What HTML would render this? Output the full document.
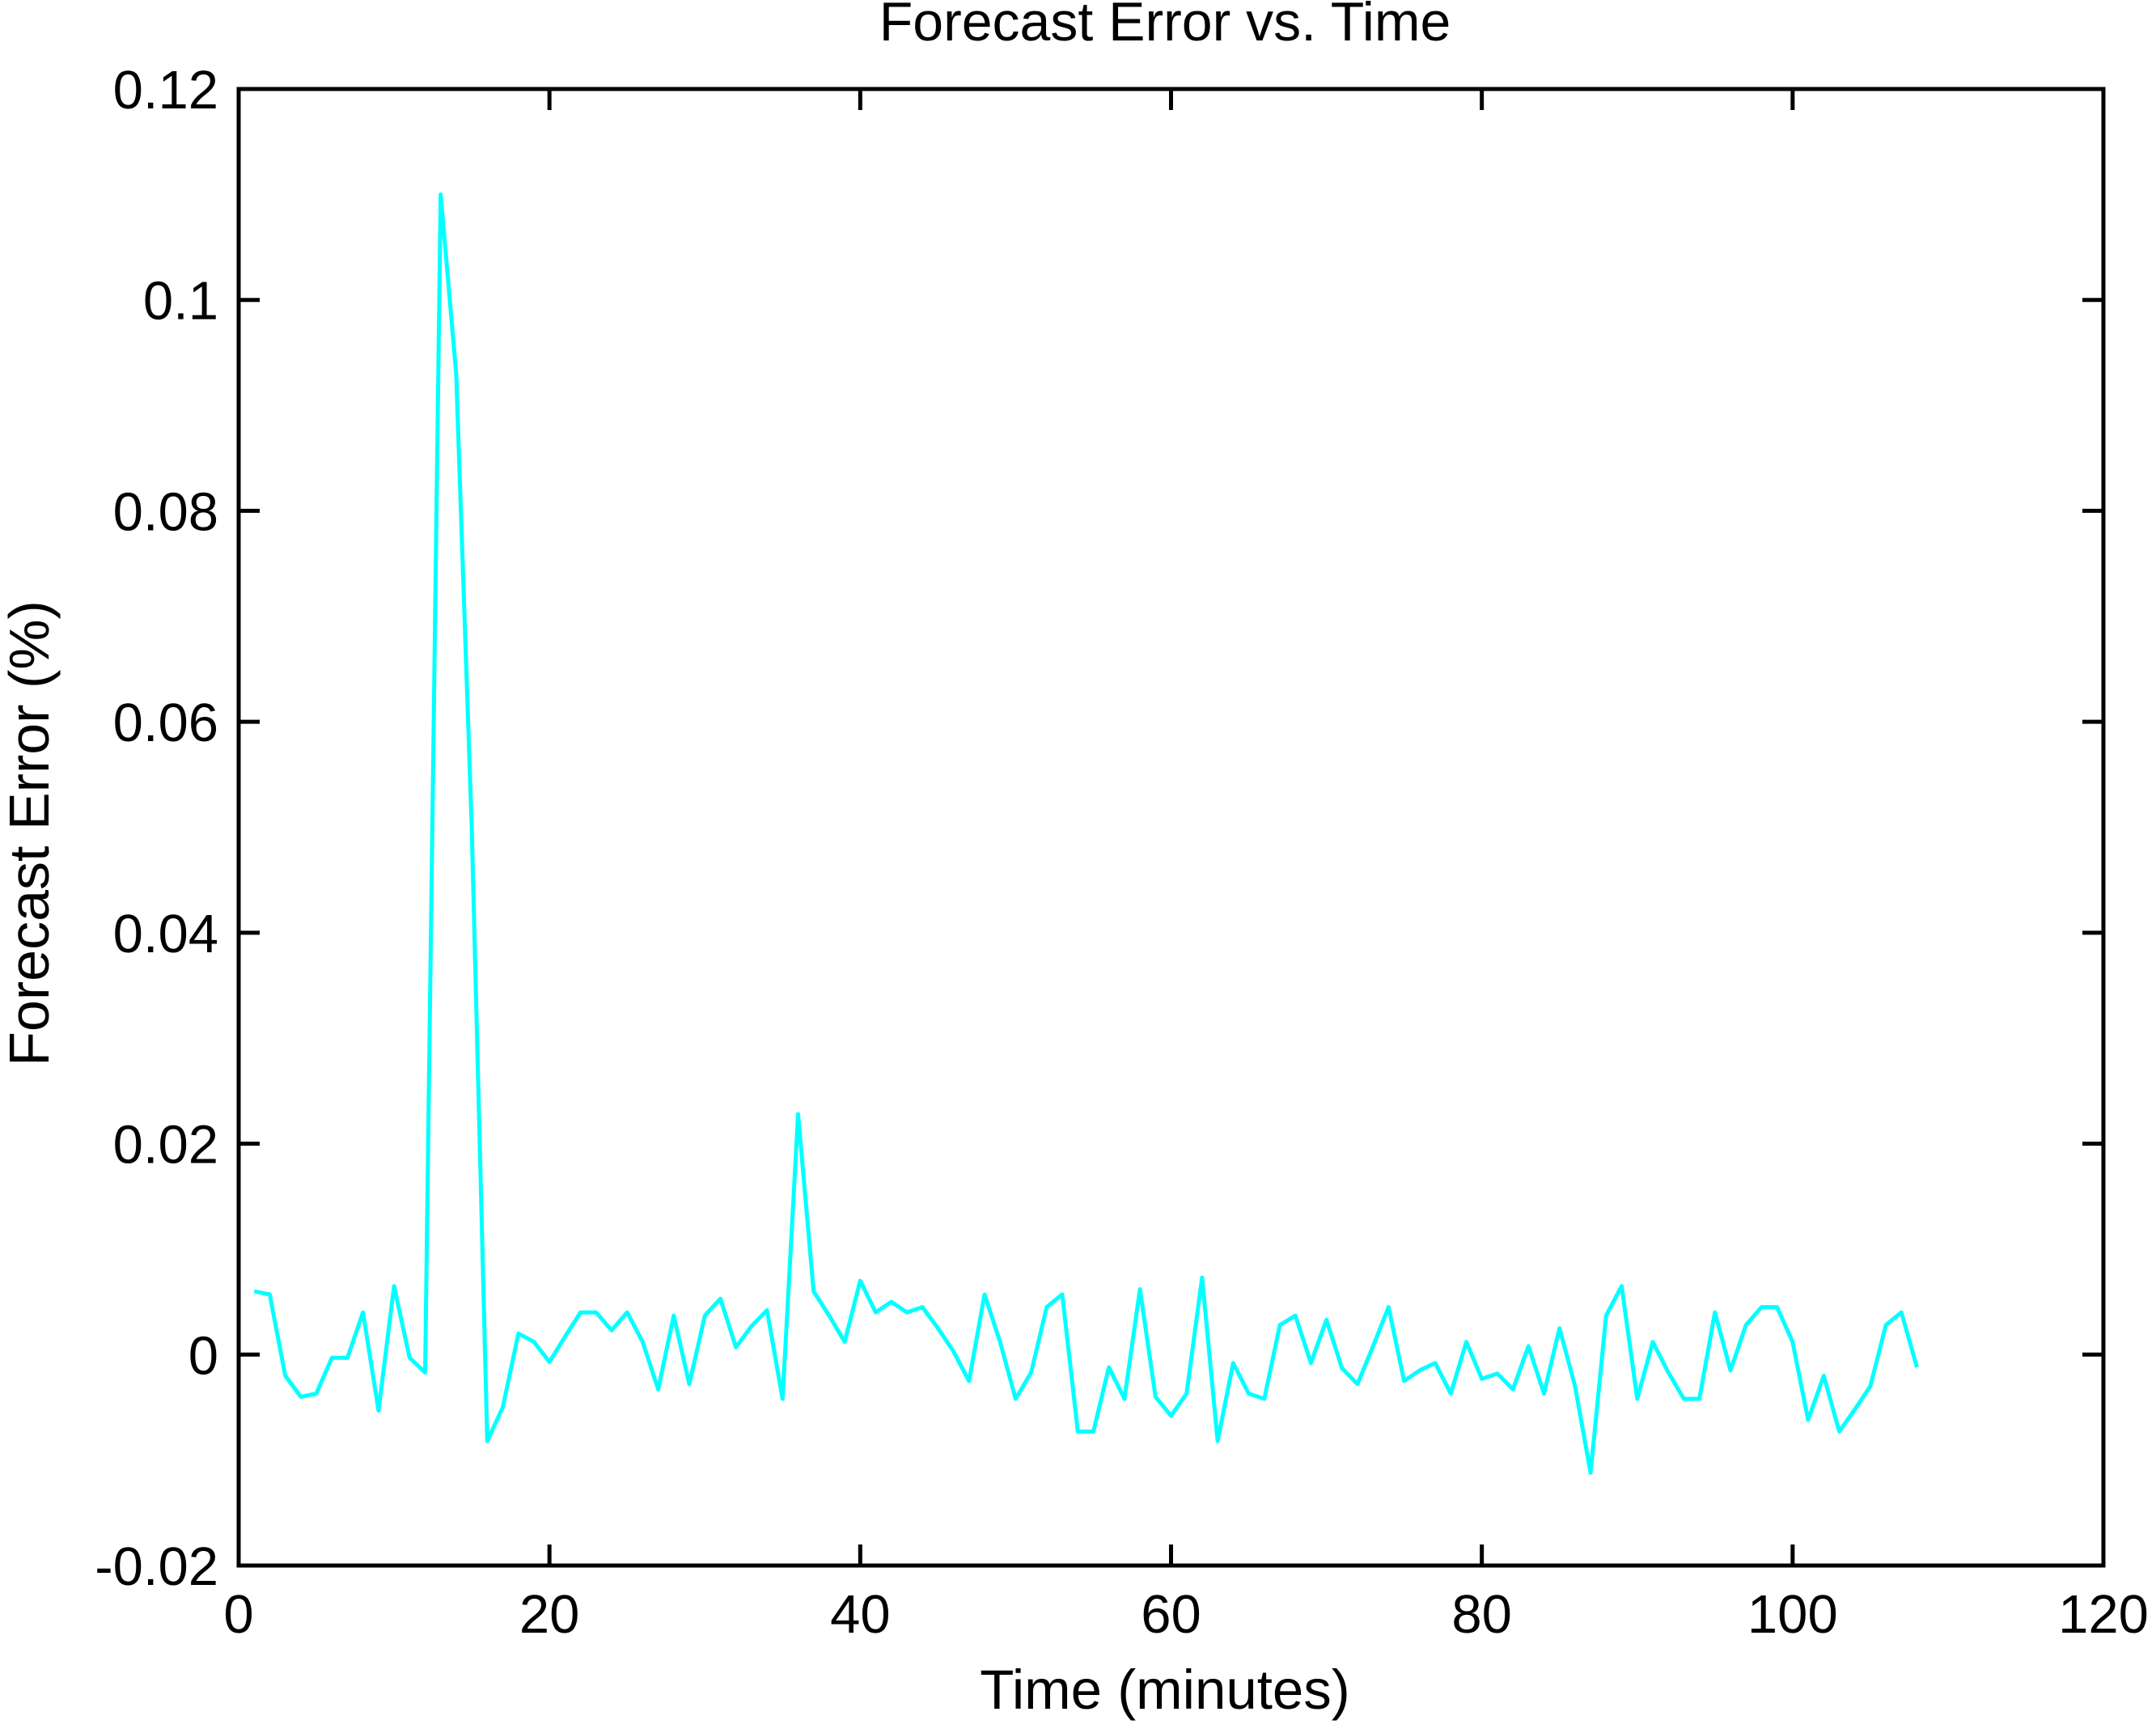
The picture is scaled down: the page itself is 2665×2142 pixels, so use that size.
<!DOCTYPE html>
<html><head><meta charset="utf-8"><style>
html,body{margin:0;padding:0;background:#fff}
svg text{font-family:"Liberation Sans",Arial,sans-serif;fill:#000}
</style></head><body>
<svg id="chart" width="2665" height="2137" viewBox="0 0 2665 2137" xmlns="http://www.w3.org/2000/svg">
<text x="1440" y="50" font-size="68" text-anchor="middle">Forecast Error vs. Time</text>
<text x="1440" y="2112" font-size="69" text-anchor="middle">Time (minutes)</text>
<text x="0" y="0" font-size="70" text-anchor="middle" transform="translate(60,1030) rotate(-90)">Forecast Error (%)</text>
<g id="ticks"></g>
<path id="series" fill="none" stroke="#00ffff" stroke-width="5" stroke-linejoin="round"></path>
<rect x="295" y="110" width="2305" height="1825" fill="none" stroke="#000" stroke-width="5"/>
</svg>
<script>
const xTicks=[0,20,40,60,80,100,120];
const yTicks=[-0.02,0,0.02,0.04,0.06,0.08,0.1,0.12];
const yTickLabels=["-0.02","0","0.02","0.04","0.06","0.08","0.1","0.12"];
const times=[];for(let i=1;i<=108;i++)times.push(i);
const errors=[0.006,0.0057,-0.002,-0.004,-0.0037,-0.0003,-0.0003,0.004,-0.0053,0.0065,-0.0003,-0.0017,0.110,0.093,0.050,-0.0082,-0.005,0.002,0.0012,-0.0007,0.0017,0.004,0.004,0.0023,0.004,0.0012,-0.0033,0.0037,-0.0028,0.0037,0.0053,0.0007,0.0027,0.0042,-0.0042,0.0228,0.006,0.0037,0.0012,0.007,0.004,0.005,0.004,0.0045,0.0025,0.0003,-0.0025,0.0057,0.0012,-0.0042,-0.0017,0.0045,0.0057,-0.0073,-0.0073,-0.0012,-0.0042,0.0062,-0.004,-0.0058,-0.0037,0.0073,-0.0082,-0.0008,-0.0037,-0.0042,0.0028,0.0037,-0.0008,0.0033,-0.0013,-0.0028,0.0008,0.0045,-0.0025,-0.0015,-0.0008,-0.0037,0.0012,-0.0023,-0.0018,-0.0033,0.0008,-0.0037,0.0025,-0.003,-0.0112,0.0037,0.0065,-0.0042,0.0012,-0.0017,-0.0042,-0.0042,0.004,-0.0015,0.0028,0.0045,0.0045,0.0012,-0.0062,-0.002,-0.0073,-0.0052,-0.003,0.0028,0.004,-0.0012];
const X0=295,X1=2600,Y0=1935,Y1=110;
const xs=v=>X0+(v-0)/(120-0)*(X1-X0);
const ys=v=>Y0-(v+0.02)/(0.14)*(Y0-Y1);
const NS="http://www.w3.org/2000/svg";
const g=document.getElementById('ticks');
function mk(t,a){const e=document.createElementNS(NS,t);for(const k in a)e.setAttribute(k,a[k]);g.appendChild(e);return e;}
xTicks.forEach(v=>{
 const x=xs(v);
 const t1=mk('line',{x1:x,y1:Y0,x2:x,y2:Y0-26,stroke:'#000','stroke-width':5});
 
 
 const t2=mk('line',{x1:x,y1:Y1,x2:x,y2:Y1+26,stroke:'#000','stroke-width':5});
 
 
 const l=mk('text',{x:x,y:2018,'font-size':67,'text-anchor':'middle'});
 l.textContent=String(v);
 
 
});
yTicks.forEach((v,i)=>{
 const y=ys(v);
 const t1=mk('line',{x1:X0,y1:y,x2:X0+26,y2:y,stroke:'#000','stroke-width':5});
 
 
 const t2=mk('line',{x1:X1,y1:y,x2:X1-26,y2:y,stroke:'#000','stroke-width':5});
 
 
 const l=mk('text',{x:270,y:y+24,'font-size':67,'text-anchor':'end'});
 l.textContent=yTickLabels[i];
 
 
});
document.getElementById('series').setAttribute('d',times.map((t,i)=>(i?'L':'M')+xs(t).toFixed(1)+','+ys(errors[i]).toFixed(1)).join(' '));
</script>
</body></html>
